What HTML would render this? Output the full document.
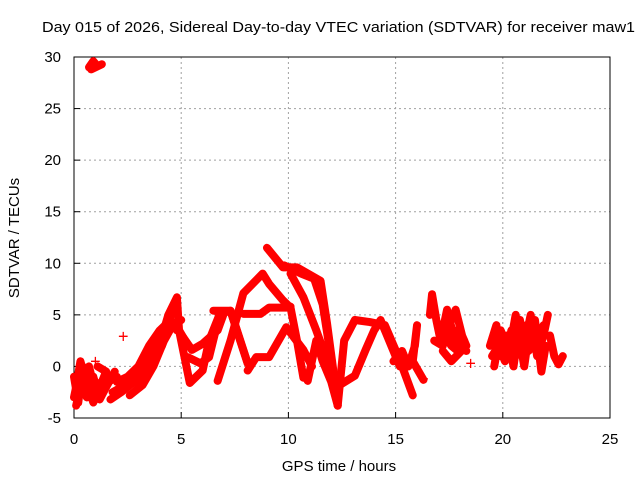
<!DOCTYPE html>
<html><head><meta charset="utf-8"><style>
body{margin:0;background:#fff}
svg text{font-family:"Liberation Sans",sans-serif;font-size:15px;fill:#000}
</style></head><body>
<svg id="chart" width="640" height="480" viewBox="0 0 640 480">
<g id="grid"></g>
<g id="axes"></g>
<g id="marks"></g>
<text x="42" y="32" textLength="593" lengthAdjust="spacingAndGlyphs">Day 015 of 2026, Sidereal Day-to-day VTEC variation (SDTVAR) for receiver maw1</text>
<text x="339" y="471" text-anchor="middle">GPS time / hours</text>
<text transform="translate(19,238) rotate(-90)" text-anchor="middle">SDTVAR / TECUs</text>
</svg>
<script>
const xTicks=[0,5,10,15,20,25];
const yTicks=[-5,0,5,10,15,20,25,30];
const trackEarlyA=[[0,-1],[0.2,-3.5],[0.4,0],[0.6,-2],[0.8,-3],[1,-1.5],[1.3,-2.5],[1.6,-1.5],[2,-1]];
const trackEarlyB=[[0.1,-2],[0.3,0.5],[0.5,-1],[0.9,-3.5],[1.2,-2],[1.5,-0.5],[1.1,0]];
const trackEarlyC=[[0,-3],[0.2,-1],[0.5,-2.5],[0.7,0],[1,-2.5],[1.4,-1.5],[1.8,-1]];
const trackEarlyD=[[0.1,-3.8],[0.3,-2],[0.6,-3],[0.9,-1],[1.2,-3.2],[1.5,-2],[1.9,-0.5]];
const trackTop=[[0.7,29],[0.9,29.6],[1.1,29.1],[1.3,29.3],[0.8,28.8]];
const trackRiseA=[[1.7,-3.2],[2.2,-2.5],[2.8,-1.5],[3.3,0.5],[3.8,2],[4.3,4],[4.8,6.6]];
const trackRiseB=[[2.6,-2.8],[3.2,-1.8],[3.7,0],[4.2,2.5],[4.6,4],[5,4.5]];
const trackRiseC=[[2,-1.5],[2.5,-1],[3,0],[3.5,2],[4,3.5],[4.5,4.5],[4.8,3.5]];
const trackRiseD=[[3,-2],[3.4,-0.5],[3.9,1.5],[4.4,5],[4.8,6.7],[4.9,3.5],[5.1,2.8]];
const trackRiseE=[[1.8,-2.5],[2.4,-1.8],[3.1,-0.8],[3.6,1],[4.1,2],[4.6,5.5]];
const trackW1=[[5.1,2.8],[5.5,1.6],[6,2.2],[6.7,3.5],[7,5.2]];
const trackW2=[[5.3,0.9],[5.9,0.3],[6.3,0.9],[6.8,5.1],[7.3,5.4],[8.1,0.3]];
const trackW3=[[4.9,3.5],[5.4,-1.6],[6,-0.4],[6.3,2.5],[6.8,5.1]];
const trackW4=[[6.5,5.4],[7.3,5.4],[8.1,0.3]];
const trackW5=[[6.7,-1.4],[7.3,2.5],[7.9,7.1],[8.8,9],[9.1,8],[9.75,6.4],[10.1,5.7],[10.4,2.5],[10.7,-1.1]];
const trackW6=[[7.9,5.1],[8.7,5.1],[9.1,5.7],[9.9,5.7],[10.1,5.8]];
const trackW7=[[8.1,-0.4],[8.5,0.9],[9.1,0.9],[9.9,3.8],[10.7,1.6],[11.1,0]];
const trackPeak=[[9,11.5],[9.75,9.6],[10.4,9.6],[11.5,8.3],[11.8,4.2],[12.3,-3.6]];
const trackPeakB=[[10.1,9],[10.7,6.7],[11.3,3.5],[12.1,-1.1],[12.3,-3.8]];
const trackPeakC=[[10.9,-1.4],[11.3,2.5],[11.6,0.5],[12,-1.5],[12.3,-3.8]];
const trackPeakD=[[9.8,9.8],[10.6,9],[11.2,8.5],[11.6,6],[11.9,2],[12.2,-2]];
const trackUpA=[[12.3,-3.8],[12.6,2.5],[13.1,4.5],[13.8,4.3],[14.5,4],[15.2,0.6],[15.8,-2.8]];
const trackUpB=[[12.4,-1.8],[13.1,-0.9],[13.6,1.6],[14,3.5],[14.3,4.5],[14.8,2],[15.2,0]];
const trackLate=[[14.9,0.5],[15.3,1.5],[15.6,0],[15.9,2],[16,4],[15.8,0.5],[16.3,-1.3]];
const clusterA=[[16.6,5],[16.7,7],[16.9,4.5],[17.1,2.5],[17.4,5.5],[17.7,3],[18,2],[18.3,1.5]];
const clusterB=[[16.8,2.5],[17.2,2],[17.5,4],[17.8,5.5],[18.1,3],[18.3,2],[17.6,0.5],[17.2,1.5]];
const clusterB2=[[17,4],[17.3,3],[17.6,2],[17.9,1.5],[18.2,2.5],[17.9,3.5],[17.5,3]];
const clusterC=[[19.4,2],[19.7,4],[19.9,1],[20.2,3],[20.5,0],[20.8,4.5],[21,2],[21.3,5],[21.6,1],[21.9,3],[22.1,5]];
const clusterD=[[19.6,0],[19.9,3.5],[20.3,1.5],[20.6,5],[21,0],[21.2,3],[21.5,4.5],[21.8,-0.5],[22,2]];
const clusterD2=[[19.5,1],[19.8,2],[20.1,0.5],[20.4,3.5],[20.7,2],[21.1,4],[21.4,2.5],[21.7,3.5]];
const clusterD3=[[19.6,2.5],[20,1.5],[20.3,2.5],[20.6,1],[20.9,3],[21.2,1.5],[21.6,2.5],[21.9,4]];
const clusterE=[[22.2,3],[22.4,1],[22.6,0.2],[22.8,1]];
const isolated=[[2.3,2.9],[1,0.5],[1.3,-0.3],[18.5,0.3],[16.3,-1.2]];
const tracks=[trackEarlyA,trackEarlyB,trackEarlyC,trackEarlyD,trackTop,trackRiseA,trackRiseB,trackRiseC,trackRiseD,trackRiseE,trackW1,trackW2,trackW3,trackW4,trackW5,trackW6,trackW7,trackPeak,trackPeakB,trackPeakC,trackPeakD,trackUpA,trackUpB,trackLate,clusterA,clusterB,clusterB2,clusterC,clusterD,clusterD2,clusterD3,clusterE];

const X0=74,X1=610,Y0=418,Y1=57;
function xs(v){return X0+(v-0)/(25-0)*(X1-X0);}
function ys(v){return Y0-(v+5)/(35)*(Y0-Y1);}
const NS='http://www.w3.org/2000/svg';
function mk(t,p,a){const e=document.createElementNS(NS,t);for(const k in a)e.setAttribute(k,a[k]);p.appendChild(e);return e;}
const grid=document.getElementById('grid'),axes=document.getElementById('axes'),marks=document.getElementById('marks');
xTicks.forEach(t=>{
  if(t>0&&t<25){const l=mk('line',grid,{x1:xs(t),x2:xs(t),y1:Y1,y2:Y0,stroke:'#a0a0a0','stroke-dasharray':'2,3'});
  
  }
  const k=mk('line',axes,{x1:xs(t),x2:xs(t),y1:Y0,y2:Y0-6,stroke:'#000'});
  
  
  const tx=mk('text',axes,{x:xs(t),y:444,'text-anchor':'middle'});tx.textContent=t;
  
  
});
yTicks.forEach(t=>{
  if(t>-5&&t<30){const l=mk('line',grid,{x1:X0,x2:X1,y1:ys(t),y2:ys(t),stroke:'#a0a0a0','stroke-dasharray':'2,3'});
  
  }
  const k=mk('line',axes,{x1:X0,x2:X0+6,y1:ys(t),y2:ys(t),stroke:'#000'});
  
  
  const tx=mk('text',axes,{x:61,y:ys(t)+5,'text-anchor':'end'});tx.textContent=t;
  
  
});
const fr=mk('rect',axes,{x:X0,y:Y1,width:X1-X0,height:Y0-Y1,fill:'none',stroke:'#000'});


tracks.forEach(tr=>{
  const p=mk('polyline',marks,{points:tr.map(d=>xs(d[0])+','+ys(d[1])).join(' '),fill:'none',stroke:'#ff0000','stroke-width':8,'stroke-linejoin':'round','stroke-linecap':'round'});
  
  
});
isolated.forEach(d=>{
  const t=mk('text',marks,{x:xs(d[0]),y:ys(d[1])+6,'text-anchor':'middle',style:'fill:#ff0000;font-size:18px'});t.textContent='+';
  
  
});
</script>
</body></html>
